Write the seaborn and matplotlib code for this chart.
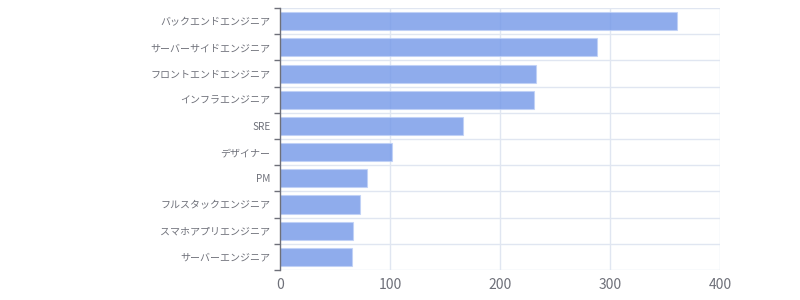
import matplotlib
matplotlib.use("Agg")
import matplotlib.pyplot as plt
import seaborn as sns
import pandas as pd
import numpy as np

categories = ["バックエンドエンジニア", "サーバーサイドエンジニア", "フロントエンドエンジニア",
              "インフラエンジニア", "SRE", "デザイナー", "PM", "フルスタックエンジニア",
              "スマホアプリエンジニア", "サーバーエンジニア"]
values = [361, 288, 233, 231, 166, 102, 79, 73, 66, 65]
x_ticks = [0, 100, 200, 300, 400]

sns.set_theme(style="white")
plt.rcParams['font.family'] = ['Noto Sans CJK JP', 'DejaVu Sans']

df = pd.DataFrame({"role": categories, "count": values})

fig = plt.figure(figsize=(8, 3), dpi=100)
ax = fig.add_axes([0.35, 0.1, 0.55, 0.873])

sns.barplot(data=df, y="role", x="count", orient="h", ax=ax,
            color=(115/255, 152/255, 232/255), alpha=0.8, width=0.69,
            edgecolor=(0.75, 0.82, 0.97), linewidth=0.8, saturation=1)

grid_c = "#E0E6F1"
n = len(categories)
ax.set_xlim(0, 400)
ax.set_ylim(n - 0.5, -0.5)
ax.set_xticks(x_ticks)
ax.set_xticklabels([str(t) for t in x_ticks], color="#6E7079", fontsize=10)
ax.tick_params(axis="x", length=0, pad=6)
ax.tick_params(axis="y", which="major", left=True, length=0, pad=7, labelsize=7.2, labelcolor="#6E7079")
ax.set_yticks(np.arange(-0.5, n, 1.0), minor=True)
ax.tick_params(axis="y", which="minor", left=True, length=4, width=1, color="#6E7079", direction="out")
ax.set_xlabel("")
ax.set_ylabel("")

ax.set_axisbelow(True)
for v in x_ticks[1:]:
    ax.axvline(v, color=grid_c, lw=1, zorder=0)
for b in np.arange(-0.5, n, 1.0):
    ax.axhline(b, color=grid_c, lw=1, zorder=0)

for s in ["top", "right", "bottom"]:
    ax.spines[s].set_visible(False)
ax.spines["left"].set_color("#6E7079")
ax.spines["left"].set_linewidth(1)

fig.savefig("out.png", dpi=100)
